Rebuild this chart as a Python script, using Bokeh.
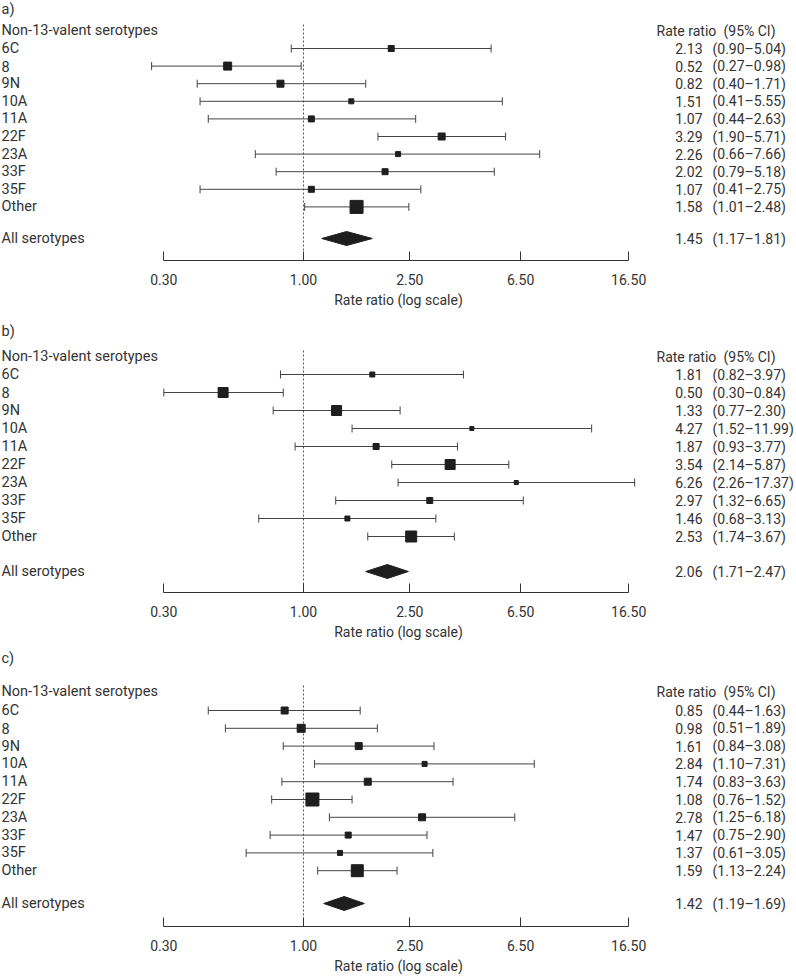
import math
from bokeh.plotting import figure
from bokeh.models import Range1d, FixedTicker, CustomJSTickFormatter, LinearScale
from bokeh.layouts import column
from bokeh.embed import file_html
from bokeh.resources import INLINE
from bokeh.core.properties import value

# ---------------- data ----------------
serotypes = ["6C", "8", "9N", "10A", "11A", "22F", "23A", "33F", "35F", "Other"]
tick_values = [0.30, 1.00, 2.50, 6.50, 16.50]

rr_a = [2.13, 0.52, 0.82, 1.51, 1.07, 3.29, 2.26, 2.02, 1.07, 1.58]
lo_a = [0.90, 0.27, 0.40, 0.41, 0.44, 1.90, 0.66, 0.79, 0.41, 1.01]
hi_a = [5.04, 0.98, 1.71, 5.55, 2.63, 5.71, 7.66, 5.18, 2.75, 2.48]
wt_a = [6, 8, 7, 5, 6, 7, 5, 6, 6, 13]
all_a = [1.45, 1.17, 1.81]

rr_b = [1.81, 0.50, 1.33, 4.27, 1.87, 3.54, 6.26, 2.97, 1.46, 2.53]
lo_b = [0.82, 0.30, 0.77, 1.52, 0.93, 2.14, 2.26, 1.32, 0.68, 1.74]
hi_b = [3.97, 0.84, 2.30, 11.99, 3.77, 5.87, 17.37, 6.65, 3.13, 3.67]
wt_b = [5, 10, 10, 4, 6, 10, 4, 6, 5, 11]
all_b = [2.06, 1.71, 2.47]

rr_c = [0.85, 0.98, 1.61, 2.84, 1.74, 1.08, 2.78, 1.47, 1.37, 1.59]
lo_c = [0.44, 0.51, 0.84, 1.10, 0.83, 0.76, 1.25, 0.75, 0.61, 1.13]
hi_c = [1.63, 1.89, 3.08, 7.31, 3.63, 1.52, 6.18, 2.90, 3.05, 2.24]
wt_c = [7, 8, 7, 5, 7, 13, 7, 6, 5, 12]
all_c = [1.42, 1.19, 1.69]

# ---------------- layout / style ----------------
W = 796
FONT = value("Roboto")
TXT = "#333333"
INK = "#1e1e1e"
LINE = "#444444"
PX_PER_LN = 116.0
X_ONE = 303.0

layouts = {
    "a": dict(label=9, header=30, first=48, step=17.6, all=238, axis=260, height=322),
    "b": dict(label=9, header=34, first=52, step=18.0, all=249, axis=270, height=325),
    "c": dict(label=11, header=44, first=63, step=17.8, all=256, axis=279, height=331),
}


def fmt_ci(lo, hi):
    return "(%.2f\u2013%.2f)" % (lo, hi)


def panel(letter, rr, lo, hi, wt, allv):
    L = layouts[letter]
    H = L["height"]
    ay = L["axis"]
    p = figure(width=W, height=H, x_axis_type="log",
               x_range=Range1d(math.exp(-X_ONE / PX_PER_LN), math.exp((W - X_ONE) / PX_PER_LN)),
               y_range=Range1d(ay, 0),
               output_backend="svg", toolbar_location=None,
               min_border_left=0, min_border_right=0, min_border_top=0,
               min_border_bottom=H - ay, y_axis_location=None,
               outline_line_color=None)
    p.extra_x_ranges = {"px": Range1d(0, W)}
    p.extra_x_scales = {"px": LinearScale()}
    p.xgrid.visible = False
    p.ygrid.visible = False

    ax = p.xaxis[0]
    ax.ticker = FixedTicker(ticks=tick_values)
    ax.formatter = CustomJSTickFormatter(code="return tick.toFixed(2);")
    ax.bounds = (tick_values[0], tick_values[-1])
    ax.major_tick_in = 9
    ax.major_tick_out = 0
    ax.minor_tick_line_color = None
    ax.axis_line_color = "#333333"
    ax.major_tick_line_color = "#333333"
    ax.major_label_text_font = "Roboto"
    ax.major_label_text_font_size = "14px"
    ax.major_label_text_color = TXT
    ax.major_label_standoff = 13
    ax.axis_label = "Rate ratio (log scale)"
    ax.axis_label_text_font = "Roboto"
    ax.axis_label_text_font_size = "14px"
    ax.axis_label_text_font_style = "normal"
    ax.axis_label_text_color = TXT
    ax.axis_label_standoff = 4

    ys = [L["first"] + i * L["step"] for i in range(len(serotypes))]

    # reference line at 1
    p.segment(x0=[1.0], x1=[1.0], y0=[L["header"] - 6], y1=[ay],
              line_color="#555555", line_width=1, line_dash="2 2")

    # CI lines and caps
    p.segment(x0=lo, x1=hi, y0=ys, y1=ys, line_color=LINE, line_width=1)
    p.segment(x0=lo, x1=lo, y0=[y - 4 for y in ys], y1=[y + 4 for y in ys],
              line_color=LINE, line_width=1)
    p.segment(x0=hi, x1=hi, y0=[y - 4 for y in ys], y1=[y + 4 for y in ys],
              line_color=LINE, line_width=1)
    p.scatter(x=rr, y=ys, size=wt, marker="square", fill_color=INK, line_color=INK)

    # pooled diamond
    m, dl, dh = allv
    yA = L["all"]
    p.patch(x=[dl, m, dh, m], y=[yA, yA - 7, yA, yA + 7], fill_color=INK, line_color=INK)

    # left texts
    left_txt = [letter + ")", "Non-13-valent serotypes"] + serotypes + ["All serotypes"]
    left_y = [L["label"], L["header"]] + ys + [yA]
    p.text(x=[1] * len(left_txt), y=left_y, text=left_txt, x_range_name="px",
           text_font=FONT, text_font_size="14.5px", text_color=TXT,
           text_align="left", text_baseline="middle")

    # right texts
    p.text(x=[656], y=[L["header"]], text=["Rate ratio"], x_range_name="px",
           text_font=FONT, text_font_size="14px", text_color=TXT,
           text_align="left", text_baseline="middle")
    p.text(x=[723], y=[L["header"]], text=["(95% CI)"], x_range_name="px",
           text_font=FONT, text_font_size="14px", text_color=TXT,
           text_align="left", text_baseline="middle")
    vals = ["%.2f" % v for v in rr] + ["%.2f" % m]
    cis = [fmt_ci(a, b) for a, b in zip(lo, hi)] + [fmt_ci(dl, dh)]
    vy = ys + [yA]
    p.text(x=[702] * len(vals), y=vy, text=vals, x_range_name="px",
           text_font=FONT, text_font_size="14px", text_color=TXT,
           text_align="right", text_baseline="middle")
    p.text(x=[712] * len(cis), y=vy, text=cis, x_range_name="px",
           text_font=FONT, text_font_size="14px", text_color=TXT,
           text_align="left", text_baseline="middle")
    return p


pa = panel("a", rr_a, lo_a, hi_a, wt_a, all_a)
pb = panel("b", rr_b, lo_b, hi_b, wt_b, all_b)
pc = panel("c", rr_c, lo_c, hi_c, wt_c, all_c)

layout = column(pa, pb, pc, spacing=0)
open("out.html", "w").write(file_html(layout, INLINE))
